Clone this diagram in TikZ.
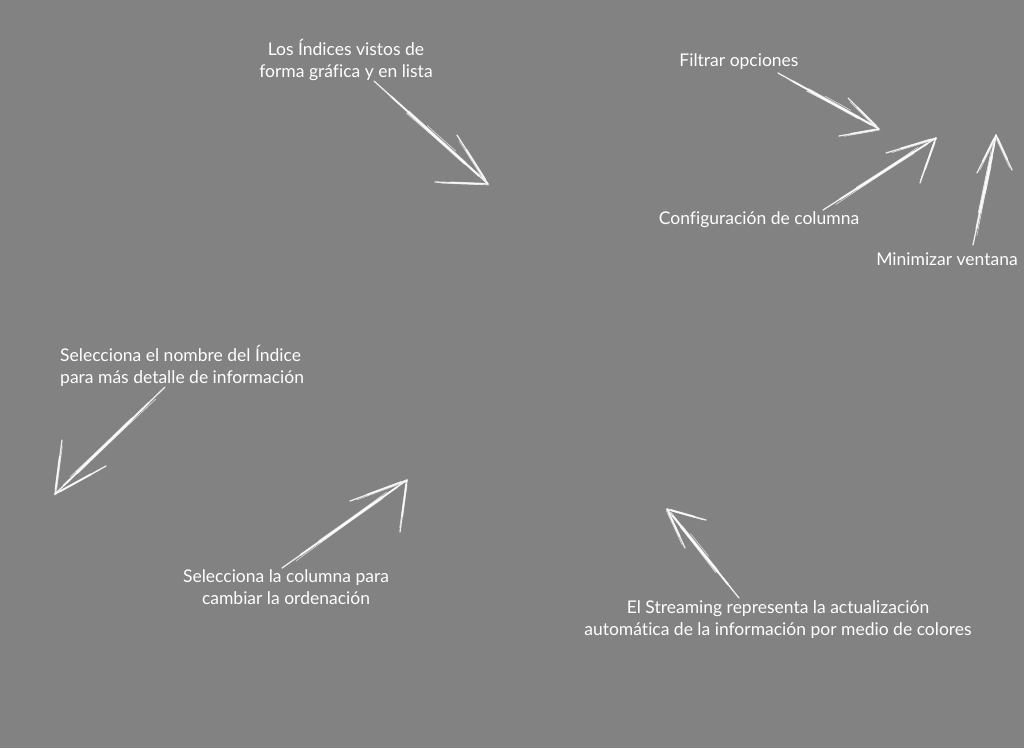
\documentclass[tikz,border=0pt]{standalone}
\usepackage{fontspec}
\setmainfont[Ligatures={NoCommon}]{Lato}
\usetikzlibrary{calc}
\definecolor{bg}{RGB}{130,130,130}
\tikzset{
  lbl/.style={text=white, font=\fontsize{17.5}{22}\selectfont, inner sep=0pt, align=center},
  chalk/.style={draw=white, line width=1.3pt, line cap=round, opacity=0.85},
  chalkcore/.style={draw=white, line width=3.2pt, line cap=round, opacity=0.6},
  chalkmid/.style={draw=white, line width=2pt, line cap=round, opacity=0.7},
  chalkthin/.style={draw=white, line width=0.6pt, line cap=round, opacity=0.7},
}
\newcommand{\chalkarrow}[4]{%
  \draw[chalk] (#1) -- (#2);
  \draw[chalkmid] ($(#1)!0.15!(#2)$) -- ($(#1)!0.92!(#2)$);
  \draw[chalkcore] ($(#1)!0.3!(#2)$) -- ($(#1)!0.8!(#2)$);
  \draw[chalkthin] ($(#1)!0.1!(#2)+(1.6,1.6)$) -- ($(#1)!0.95!(#2)+(0.8,-0.8)$);
  \draw[chalkthin] ($(#1)!0.3!(#2)+(-1.8,1.4)$) -- ($(#1)!0.85!(#2)+(-1.4,-1.4)$);
  \draw[chalkthin] ($(#1)!0.45!(#2)+(2,-1.8)$) -- ($(#1)!0.7!(#2)+(2,-2)$);
  \draw[chalk] (#2) -- (#3);
  \draw[chalkmid] ($(#2)!0.1!(#3)$) -- ($(#2)!0.7!(#3)$);
  \draw[chalkthin] ($(#2)+(1,1)$) -- ($(#3)!0.1!(#2)+(1,1)$);
  \draw[chalk] (#2) -- (#4);
  \draw[chalkmid] ($(#2)!0.1!(#4)$) -- ($(#2)!0.7!(#4)$);
  \draw[chalkthin] ($(#2)+(-1,1)$) -- ($(#4)!0.1!(#2)+(-1,1)$);
}
\begin{document}
\begin{tikzpicture}[x=1pt,y=-1pt]
\fill[bg] (0,0) rectangle (1024,748);
\useasboundingbox (0,0) rectangle (1024,748);

% labels
\node[lbl] (indices) at (346,60) {Los Índices vistos de\\forma gráfica y en lista};
\node[lbl] (filtrar) at (739,62) {Filtrar opciones};
\node[lbl] (config) at (759,220) {Configuración de columna};
\node[lbl] (minim) at (947,259) {Minimizar ventana};
\node[lbl, align=left, anchor=west] (nombre) at (60,366) {Selecciona el nombre del Índice\\para más detalle de información};
\node[lbl] (columna) at (286,587) {Selecciona la columna para\\cambiar la ordenación};
\node[lbl] (stream) at (778,620) {El Streaming representa la actualización\\automática de la información por medio de colores};

% arrows: tail, tip, barb1, barb2
\coordinate (a1t) at (374,81);  \coordinate (a1p) at (488,184); \coordinate (a1b) at (435,182); \coordinate (a1c) at (457,135);
\coordinate (a2t) at (778,73);  \coordinate (a2p) at (879,129); \coordinate (a2b) at (839,136); \coordinate (a2c) at (848,98);
\coordinate (a3t) at (823,210); \coordinate (a3p) at (936,138); \coordinate (a3b) at (886,153); \coordinate (a3c) at (920,183);
\coordinate (a4t) at (973,245); \coordinate (a4p) at (996,135); \coordinate (a4b) at (977,173); \coordinate (a4c) at (1012,170);
\coordinate (a5t) at (165,387); \coordinate (a5p) at (55,494);  \coordinate (a5b) at (62,440);  \coordinate (a5c) at (106,466);
\coordinate (a6t) at (282,568); \coordinate (a6p) at (407,480); \coordinate (a6b) at (350,501); \coordinate (a6c) at (400,532);
\coordinate (a7t) at (739,598); \coordinate (a7p) at (667,509); \coordinate (a7b) at (706,520); \coordinate (a7c) at (685,548);

\chalkarrow{a1t}{a1p}{a1b}{a1c}
\chalkarrow{a2t}{a2p}{a2b}{a2c}
\chalkarrow{a3t}{a3p}{a3b}{a3c}
\chalkarrow{a4t}{a4p}{a4b}{a4c}
\chalkarrow{a5t}{a5p}{a5b}{a5c}
\chalkarrow{a6t}{a6p}{a6b}{a6c}
\chalkarrow{a7t}{a7p}{a7b}{a7c}
\end{tikzpicture}
\end{document}
